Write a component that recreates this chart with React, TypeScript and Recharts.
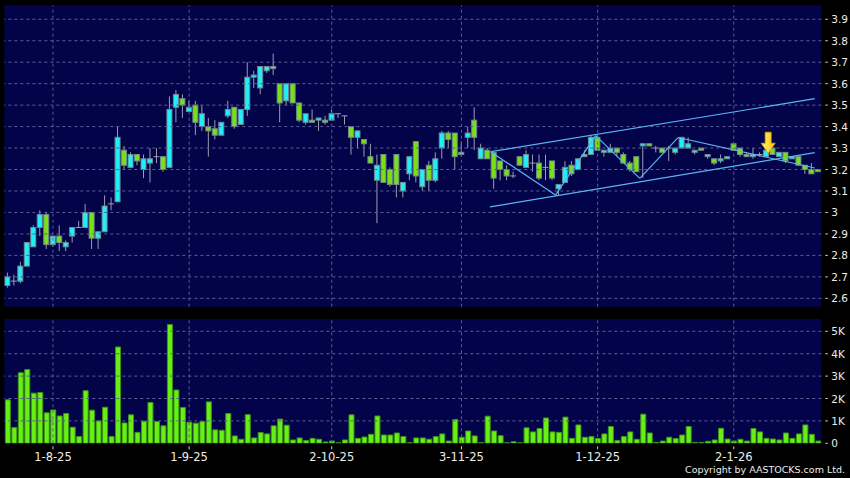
import React from 'react';
import { Bar, CartesianGrid, ComposedChart, ReferenceDot, ReferenceLine, XAxis, YAxis } from 'recharts';

// trading-day index ticks and their labels
const tickIdx = [7, 28, 50, 70, 91, 112];
const tickLabels = ['1-8-25', '1-9-25', '2-10-25', '3-11-25', '1-12-25', '2-1-26'];

const priceTicks = [2.6, 2.7, 2.8, 2.9, 3, 3.1, 3.2, 3.3, 3.4, 3.5, 3.6, 3.7, 3.8, 3.9];
const volTicks = [0, 1, 2, 3, 4, 5];

const opens = [
  2.66, 2.68, 2.68, 2.75, 2.84, 2.93, 2.99, 2.85, 2.89, 2.84, 2.89, 2.93, 2.93, 3.0, 2.88, 2.91, 3.04, 3.05, 3.29, 3.21,
  3.27, 3.2, 3.23, 3.26, 3.26, 3.21, 3.49, 3.53, 3.47, 3.5, 3.4, 3.4, 3.39, 3.36, 3.45, 3.49, 3.41, 3.48, 3.63, 3.58,
  3.66, 3.68, 3.6, 3.52, 3.6, 3.51, 3.42, 3.43, 3.43, 3.43, 3.43, 3.46, 3.45, 3.4, 3.35, 3.34, 3.26, 3.15, 3.27, 3.2,
  3.27, 3.1, 3.18, 3.33, 3.12, 3.22, 3.15, 3.3, 3.37, 3.37, 3.27, 3.35, 3.43, 3.25, 3.29, 3.28, 3.24, 3.2, 3.17, 3.26,
  3.21, 3.23, 3.23, 3.21, 3.24, 3.11, 3.14, 3.22, 3.2, 3.26, 3.27, 3.35, 3.28, 3.28, 3.3, 3.27, 3.23, 3.26, 3.31, 3.32,
  3.3, 3.3, 3.3, 3.28, 3.3, 3.3, 3.28, 3.3, 3.26, 3.25, 3.24, 3.25, 3.32, 3.3, 3.27, 3.26, 3.27, 3.26, 3.3, 3.26,
  3.28, 3.25, 3.26, 3.22, 3.2, 3.2,
];
const highs = [
  2.72, 2.71, 2.77, 2.86, 2.94, 3.01, 3.0, 2.89, 2.94, 2.87, 2.93, 2.96, 3.04, 3.0, 2.91, 3.08, 3.07, 3.4, 3.31, 3.28,
  3.27, 3.27, 3.3, 3.3, 3.26, 3.54, 3.57, 3.55, 3.52, 3.52, 3.5, 3.44, 3.43, 3.42, 3.52, 3.49, 3.48, 3.7, 3.66, 3.68,
  3.68, 3.74, 3.6, 3.6, 3.6, 3.51, 3.46, 3.48, 3.44, 3.45, 3.48, 3.46, 3.45, 3.4, 3.38, 3.34, 3.32, 3.27, 3.27, 3.21,
  3.27, 3.14, 3.26, 3.33, 3.2, 3.24, 3.28, 3.38, 3.38, 3.37, 3.33, 3.4, 3.49, 3.32, 3.3, 3.28, 3.24, 3.22, 3.19, 3.26,
  3.29, 3.27, 3.27, 3.27, 3.24, 3.13, 3.24, 3.24, 3.25, 3.29, 3.36, 3.36, 3.29, 3.32, 3.3, 3.28, 3.24, 3.26, 3.32, 3.32,
  3.31, 3.3, 3.31, 3.3, 3.35, 3.35, 3.29, 3.3, 3.27, 3.25, 3.27, 3.26, 3.32, 3.3, 3.28, 3.3, 3.28, 3.29, 3.3, 3.28,
  3.28, 3.26, 3.26, 3.22, 3.23, 3.2,
];
const lows = [
  2.65, 2.66, 2.67, 2.75, 2.84, 2.89, 2.83, 2.84, 2.82, 2.82, 2.86, 2.93, 2.93, 2.83, 2.83, 2.91, 3.01, 3.05, 3.2, 3.21,
  3.22, 3.16, 3.14, 3.23, 3.19, 3.21, 3.42, 3.44, 3.47, 3.36, 3.38, 3.26, 3.34, 3.36, 3.44, 3.39, 3.41, 3.45, 3.58, 3.55,
  3.65, 3.64, 3.42, 3.5, 3.51, 3.42, 3.41, 3.42, 3.38, 3.41, 3.43, 3.44, 3.41, 3.27, 3.3, 3.26, 3.23, 2.95, 3.14, 3.12,
  3.07, 3.07, 3.15, 3.14, 3.1, 3.1, 3.14, 3.25, 3.3, 3.2, 3.26, 3.3, 3.29, 3.25, 3.25, 3.11, 3.15, 3.15, 3.16, 3.22,
  3.21, 3.19, 3.15, 3.15, 3.15, 3.08, 3.14, 3.17, 3.2, 3.26, 3.27, 3.29, 3.26, 3.28, 3.26, 3.23, 3.19, 3.19, 3.16, 3.31,
  3.28, 3.28, 3.24, 3.27, 3.3, 3.3, 3.27, 3.29, 3.25, 3.22, 3.23, 3.25, 3.29, 3.26, 3.26, 3.25, 3.26, 3.26, 3.27, 3.26,
  3.23, 3.25, 3.22, 3.18, 3.18, 3.19,
];
const closes = [
  2.7, 2.68, 2.75, 2.86, 2.93, 2.99, 2.85, 2.89, 2.86, 2.86, 2.93, 2.93, 3.0, 2.88, 2.91, 3.03, 3.04, 3.35, 3.22, 3.27,
  3.24, 3.25, 3.25, 3.26, 3.2, 3.48, 3.55, 3.5, 3.49, 3.42, 3.46, 3.38, 3.36, 3.42, 3.48, 3.4, 3.48, 3.63, 3.64, 3.68,
  3.68, 3.67, 3.51, 3.6, 3.51, 3.43, 3.46, 3.42, 3.44, 3.42, 3.46, 3.46, 3.45, 3.35, 3.38, 3.32, 3.23, 3.22, 3.14, 3.13,
  3.13, 3.14, 3.26, 3.17, 3.2, 3.15, 3.25, 3.37, 3.34, 3.26, 3.28, 3.37, 3.35, 3.3, 3.25, 3.16, 3.2, 3.17, 3.17, 3.22,
  3.27, 3.23, 3.16, 3.21, 3.16, 3.13, 3.21, 3.18, 3.25, 3.27, 3.35, 3.29, 3.29, 3.3, 3.28, 3.23, 3.2, 3.19, 3.32, 3.31,
  3.3, 3.28, 3.3, 3.3, 3.35, 3.32, 3.29, 3.29, 3.27, 3.23, 3.25, 3.26, 3.29, 3.27, 3.26, 3.27, 3.27, 3.29, 3.27, 3.28,
  3.24, 3.26, 3.22, 3.2, 3.18, 3.19,
];
// volume in thousands
const volumes = [
  1.94, 0.7, 3.15, 3.29, 2.24, 2.27, 1.36, 1.49, 1.22, 1.33, 0.72, 0.3, 2.35, 1.48, 1.0, 1.61, 0.3, 4.3, 0.91, 1.27,
  0.49, 0.99, 1.82, 0.97, 0.78, 5.3, 2.38, 1.6, 0.94, 0.9, 0.97, 1.85, 0.6, 0.58, 1.33, 0.33, 0.18, 1.28, 0.24, 0.48,
  0.42, 0.78, 1.08, 0.81, 0.15, 0.24, 0.12, 0.22, 0.18, 0.06, 0.1, 0.02, 0.15, 1.27, 0.22, 0.28, 0.4, 1.22, 0.37, 0.37,
  0.46, 0.3, 0.03, 0.24, 0.24, 0.18, 0.3, 0.42, 0.1, 1.06, 0.27, 0.55, 0.33, 0.03, 1.21, 0.55, 0.34, 0.02, 0.07, 0.02,
  0.69, 0.51, 0.66, 1.13, 0.51, 0.49, 1.17, 0.22, 0.82, 0.27, 0.3, 0.21, 0.42, 0.75, 0.12, 0.3, 0.51, 0.18, 1.3, 0.46,
  0.04, 0.1, 0.27, 0.21, 0.37, 0.75, 0.04, 0.04, 0.09, 0.15, 0.67, 0.19, 0.1, 0.18, 0.1, 0.66, 0.51, 0.22, 0.19, 0.15,
  0.46, 0.22, 0.42, 0.82, 0.4, 0.1,
];

// hand-drawn trend lines, [index, price]
const upperChannel = [[74.5, 3.283], [124.5, 3.53]];
const lowerChannel = [[74.4, 3.026], [124.5, 3.279]];
const zigzag = [[74.5, 3.283], [84.5, 3.081], [90.7, 3.358], [97.5, 3.159], [103.4, 3.349], [124.5, 3.207]];
const arrowPoint = [117.3, 3.276];

const data = opens.map((open, i) => ({
  i,
  open,
  high: highs[i],
  low: lows[i],
  close: closes[i],
  range: [lows[i], highs[i]],
  vol: volumes[i],
}));

const NAVY = '#03034a';
const GRID = '#5d5d93';
const FONT = 'DejaVu Sans';
const LINE = '#5ab6f2';
const X_DOMAIN: [number, number] = [-0.5, 125.5];

function Candle(props: any) {
  const { x, y, width, height, payload } = props;
  if (x == null || !payload) return null;
  const { open, close, high, low } = payload;
  const k = high === low ? 0 : height / (high - low);
  const yo = y + (high - open) * k;
  const yc = y + (high - close) * k;
  const cx = x + width / 2;
  const flat = Math.abs(open - close) < 0.001;
  const top = Math.min(yo, yc);
  const h = Math.max(Math.abs(yo - yc), 1);
  return (
    <g>
      <line x1={cx} x2={cx} y1={y} y2={y + height} stroke="#9c9cae" strokeWidth={1} />
      {flat ? (
        <line x1={x} x2={x + width} y1={yo} y2={yo} stroke="#9c9cae" strokeWidth={1} />
      ) : (
        <rect
          x={x + 0.5}
          y={top}
          width={width - 1}
          height={h}
          fill={close > open ? '#22eef8' : '#7ae016'}
          stroke="#6e8a8e"
          strokeWidth={1}
        />
      )}
    </g>
  );
}

function Arrow(props: any) {
  const { cx, cy } = props;
  if (cx == null) return null;
  return (
    <g>
      <defs>
        <linearGradient id="arrowFill" x1="0" y1="0" x2="1" y2="0">
          <stop offset="0%" stopColor="#fff27a" />
          <stop offset="100%" stopColor="#ffc400" />
        </linearGradient>
      </defs>
      <polygon
        points={`${cx - 3},${cy - 21} ${cx + 3},${cy - 21} ${cx + 3},${cy - 10} ${cx + 7},${cy - 10} ${cx},${cy} ${cx - 7},${cy - 10} ${cx - 3},${cy - 10}`}
        fill="url(#arrowFill)"
        stroke="#d9a200"
        strokeWidth={0.8}
      />
    </g>
  );
}

function RightTick(props: any) {
  const { x, y, payload, fmt } = props;
  return (
    <g>
      <line x1={x + 4} x2={x + 6.5} y1={y} y2={y} stroke="#d0d0d0" />
      <text x={x + 10} y={y} dy={4} fill="#ececec" fontSize={10.5} fontFamily={FONT} textAnchor="start">
        {fmt(payload.value)}
      </text>
    </g>
  );
}

function DateTick(props: any) {
  const { x, y, payload } = props;
  const label = tickLabels[tickIdx.indexOf(payload.value)] ?? '';
  return (
    <g>
      <line x1={x} x2={x} y1={y + 3} y2={y + 6} stroke="#d0d0d0" />
      <text x={x} y={y + 18} fill="#ececec" fontSize={11.5} fontFamily={FONT} textAnchor="middle">
        {label}
      </text>
    </g>
  );
}

const fmtPrice = (v: number) => String(Number(v.toFixed(1)));
const fmtVol = (v: number) => (v === 0 ? '0' : `${v}K`);

const seg = (a: number[], b: number[]) => [
  { x: a[0], y: a[1] },
  { x: b[0], y: b[1] },
];

// dashed grid, one line per axis tick
const gridLines = (yValues: number[]) => [
  ...yValues.map((v) => (
    <ReferenceLine key={`h${v}`} y={v} stroke={GRID} strokeDasharray="3 3" />
  )),
  ...tickIdx.map((v) => <ReferenceLine key={`v${v}`} x={v} stroke={GRID} strokeDasharray="3 3" />),
];

export default function App() {
  return (
    <div style={{ position: 'absolute', left: 0, top: 0, width: 850, height: 478, background: '#000', overflow: 'hidden' }}>
      <div style={{ position: 'absolute', left: 0, top: 0 }}>
        <ComposedChart width={850} height={310} data={data} margin={{ top: 5.3, right: 0, bottom: 3.3, left: 4.33 }}>
          <CartesianGrid horizontal={false} vertical={false} fill={NAVY} />
          <XAxis dataKey="i" type="number" domain={X_DOMAIN} ticks={tickIdx} hide allowDataOverflow />
          <YAxis
            orientation="right"
            width={28.67}
            domain={[2.561, 3.965]}
            ticks={priceTicks}
            allowDataOverflow
            axisLine={false}
            tickLine={false}
            tickSize={0}
            tickMargin={0}
            interval={0}
            tick={<RightTick fmt={fmtPrice} />}
          />
          {gridLines(priceTicks)}
          <Bar dataKey="range" barSize={6} shape={<Candle />} isAnimationActive={false} />
          <ReferenceLine segment={seg(upperChannel[0], upperChannel[1])} stroke={LINE} strokeWidth={1.2} />
          <ReferenceLine segment={seg(lowerChannel[0], lowerChannel[1])} stroke={LINE} strokeWidth={1.2} />
          {zigzag.slice(1).map((p, k) => (
            <ReferenceLine key={k} segment={seg(zigzag[k], p)} stroke={LINE} strokeWidth={1.2} />
          ))}
          <ReferenceDot x={arrowPoint[0]} y={arrowPoint[1]} r={0} shape={<Arrow />} />
        </ComposedChart>
      </div>
      <div style={{ position: 'absolute', left: 0, top: 310 }}>
        <ComposedChart width={850} height={168} data={data} margin={{ top: 9, right: 0, bottom: 0, left: 4.33 }}>
          <CartesianGrid horizontal={false} vertical={false} fill={NAVY} />
          <XAxis
            dataKey="i"
            type="number"
            domain={X_DOMAIN}
            ticks={tickIdx}
            height={34.7}
            allowDataOverflow
            axisLine={false}
            tickLine={false}
            tickSize={0}
            tickMargin={0}
            interval={0}
            tick={<DateTick />}
          />
          <YAxis
            orientation="right"
            width={28.67}
            domain={[0, 5.55]}
            ticks={volTicks}
            allowDataOverflow
            axisLine={false}
            tickLine={false}
            tickSize={0}
            tickMargin={0}
            interval={0}
            tick={<RightTick fmt={fmtVol} />}
          />
          {gridLines(volTicks.slice(1))}
          <Bar dataKey="vol" barSize={5} fill="#66f016" stroke="#3f9410" strokeWidth={1} isAnimationActive={false} />
        </ComposedChart>
      </div>
      <div
        style={{
          position: 'absolute',
          right: 5,
          top: 464,
          fontFamily: FONT,
          fontSize: 9.5,
          color: '#ececec',
          whiteSpace: 'nowrap',
        }}
      >
        Copyright by AASTOCKS.com Ltd.
      </div>
    </div>
  );
}
